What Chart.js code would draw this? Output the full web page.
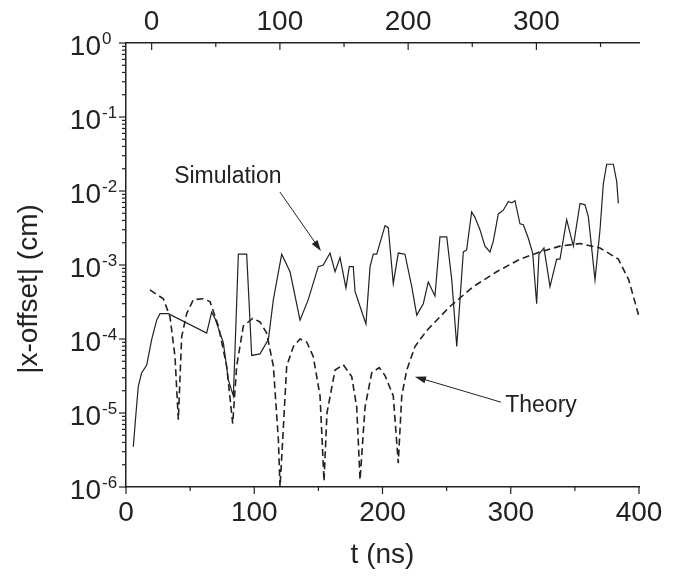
<!DOCTYPE html>
<html>
<head>
<meta charset="utf-8">
<script src="https://cdn.jsdelivr.net/npm/chart.js@4.4.1/dist/chart.umd.min.js"></script>
<style>
  html, body { margin: 0; padding: 0; background: #fff; }
  canvas { display: block; }
</style>
</head>
<body>
<canvas id="offsetChart" width="678" height="582"></canvas>
<script>
// Simulation |x-offset| (cm) vs t (ns)
const simT = [5.7, 7.8, 9.6, 12.2, 16.1, 20.0, 23.9, 26.5, 33.0, 62.9, 66.8, 69.4, 75.9, 79.8, 83.7, 85.0,
    87.6, 94.1, 98.0, 104.5, 111.0, 114.9, 121.4, 127.9, 135.7, 142.1, 149.9, 153.8, 159.1, 163.0, 166.9,
    171.5, 174.1, 177.2, 178.6, 182.5, 187.1, 190.3, 192.8, 195.5, 202.0, 204.5, 208.4, 212.3, 217.5,
    222.8, 226.7, 231.8, 235.7, 240.9, 244.8, 250.1, 254.0, 257.9, 263.0, 265.6, 269.5, 272.1, 276.0,
    279.9, 283.8, 286.4, 290.3, 294.2, 298.1, 300.7, 303.3, 307.2, 309.8, 313.7, 317.1, 320.2, 322.0,
    325.9, 330.6, 335.8, 338.4, 343.6, 348.8, 354.0, 357.9, 360.5, 365.7, 369.6, 372.2, 374.8, 380.0,
    382.6, 383.9]
const simY = [3.5e-6, 1.0e-5, 2.3e-5, 3.5e-5, 4.4e-5, 9.8e-5, 1.8e-4, 2.2e-4, 2.2e-4, 1.2e-4, 2.3e-4, 1.9e-4,
    8.9e-5, 2.8e-5, 1.7e-5, 7.1e-5, 1.4e-3, 1.4e-3, 6.0e-5, 6.3e-5, 9.8e-5, 3.4e-4, 1.4e-3, 8.1e-4, 1.8e-4,
    3.4e-4, 9.5e-4, 1.0e-3, 1.45e-3, 8.1e-4, 1.26e-3, 4.9e-4, 9.5e-4, 9.5e-4, 4.4e-4, 2.75e-4, 1.6e-4,
    9.5e-4, 1.4e-3, 1.4e-3, 3.4e-3, 3.2e-3, 5.6e-4, 1.45e-3, 1.4e-3, 5.1e-4, 2.1e-4, 3.0e-4, 5.9e-4,
    3.8e-4, 2.4e-3, 2.4e-3, 6.3e-4, 7.9e-5, 1.5e-3, 1.6e-3, 5.2e-3, 4.4e-3, 3.0e-3, 1.8e-3, 1.5e-3,
    2.1e-3, 4.9e-3, 5.5e-3, 7.2e-3, 6.9e-3, 7.4e-3, 3.6e-3, 3.5e-3, 2.3e-3, 1.45e-3, 3.0e-4, 1.4e-3,
    1.7e-3, 5.1e-4, 1.2e-3, 1.2e-3, 4.1e-3, 1.8e-3, 6.8e-3, 6.5e-3, 4.5e-3, 6.3e-4, 3.0e-3, 1.26e-2,
    2.3e-2, 2.3e-2, 1.35e-2, 6.8e-3]

// Theory curve
const theoryT = [18.7, 29.1, 34.3, 38.2, 40.8, 43.4, 47.3, 52.5, 60.3, 65.5, 72.0, 78.5, 83.2, 86.3, 91.5,
    98.8, 104.5, 109.7, 114.9, 118.8, 120.1, 122.2, 125.3, 130.5, 135.7, 140.9, 146.0, 151.3, 154.4,
    156.7, 163.0, 169.4, 176.0, 179.9, 182.5, 186.4, 191.6, 197.5, 202.0, 208.4, 212.3, 215.0, 218.9,
    225.3, 234.5, 252.6, 270.8, 289.0, 307.2, 322.8, 338.4, 354.0, 369.6, 383.9, 392.0, 400.0]
const theoryY = [4.6e-4, 3.5e-4, 2.0e-4, 5.8e-5, 8.1e-6, 1.07e-4, 2.2e-4, 3.4e-4, 3.5e-4, 3.2e-4, 1.5e-4,
    4.3e-5, 7.2e-6, 4.3e-5, 1.5e-4, 1.9e-4, 1.7e-4, 1.2e-4, 4.3e-5, 4.4e-6, 1.0e-6, 4.4e-6, 4.3e-5,
    7.9e-5, 1.0e-4, 9.1e-5, 5.8e-5, 1.7e-5, 1.2e-6, 1.0e-5, 3.8e-5, 4.5e-5, 3.1e-5, 1.2e-5, 1.25e-6,
    1.2e-5, 3.5e-5, 4.1e-5, 3.2e-5, 1.7e-5, 2.1e-6, 1.7e-5, 3.8e-5, 7.9e-5, 1.3e-4, 2.75e-4, 5.1e-4,
    8.1e-4, 1.2e-3, 1.5e-3, 1.8e-3, 1.95e-3, 1.7e-3, 1.2e-3, 6.3e-4, 2.0e-4]

// axes
const xTicks = [0, 100, 200, 300, 400]
const xMinorTicks = [50, 150, 250, 350]
const topTicks = [0, 100, 200, 300]
const topMinorTicks = [50, 150, 250, 350]
const topOffset = 20   // top axis reads t - 20
const yExps = [0, -1, -2, -3, -4, -5, -6]

// annotations: [label, text t, text y, arrow tail t, tail y, arrow tip t, tip y]
const notes = [
    ['Simulation', 79.4, 1.55e-2, 120, 9.7e-3, 152, 1.55e-3],
    ['Theory', 323.6, 1.24e-5, 292.4, 1.4e-5, 225.3, 3.1e-5]
]

const ink = '#222'
const fontFamily = '"Liberation Sans", Arial, Helvetica, sans-serif'

function arrow(ctx, x0, y0, x1, y1) {
    const ang = Math.atan2(y1 - y0, x1 - x0)
    const len = 11, half = 3.5
    ctx.beginPath()
    ctx.moveTo(x0, y0)
    ctx.lineTo(x1 - Math.cos(ang) * len * 0.8, y1 - Math.sin(ang) * len * 0.8)
    ctx.stroke()
    ctx.beginPath()
    ctx.moveTo(x1, y1)
    ctx.lineTo(x1 - Math.cos(ang) * len - Math.sin(ang) * half, y1 - Math.sin(ang) * len + Math.cos(ang) * half)
    ctx.lineTo(x1 - Math.cos(ang) * len + Math.sin(ang) * half, y1 - Math.sin(ang) * len - Math.cos(ang) * half)
    ctx.closePath()
    ctx.fill()
}

const axisDecor = {
    id: 'axisDecor',
    afterDraw(chart) {
        const {ctx, chartArea: a, scales} = chart
        const x = scales.x, x2 = scales.x2, y = scales.y
        ctx.save()
        ctx.strokeStyle = ink
        ctx.fillStyle = ink
        ctx.lineWidth = 1.2

        // bottom ticks (outward)
        xTicks.forEach(v => {
            const px = x.getPixelForValue(v)
            ctx.beginPath(); ctx.moveTo(px, a.bottom); ctx.lineTo(px, a.bottom + 7); ctx.stroke()
        })
        xMinorTicks.forEach(v => {
            const px = x.getPixelForValue(v)
            ctx.beginPath(); ctx.moveTo(px, a.bottom); ctx.lineTo(px, a.bottom + 4); ctx.stroke()
        })
        // top ticks (pointing into the plot)
        topTicks.forEach(v => {
            const px = x2.getPixelForValue(v)
            ctx.beginPath(); ctx.moveTo(px, a.top); ctx.lineTo(px, a.top + 7); ctx.stroke()
        })
        topMinorTicks.forEach(v => {
            const px = x2.getPixelForValue(v)
            ctx.beginPath(); ctx.moveTo(px, a.top); ctx.lineTo(px, a.top + 4); ctx.stroke()
        })
        // left ticks, log decades + minors
        yExps.forEach(e => {
            const py = y.getPixelForValue(Math.pow(10, e))
            ctx.beginPath(); ctx.moveTo(a.left, py); ctx.lineTo(a.left - 7, py); ctx.stroke()
            if (e < 0) {
                for (let m = 2; m <= 9; m++) {
                    const pm = y.getPixelForValue(m * Math.pow(10, e))
                    ctx.beginPath(); ctx.moveTo(a.left, pm); ctx.lineTo(a.left - 4, pm); ctx.stroke()
                }
            }
        })

        // tick labels
        ctx.font = '28px ' + fontFamily
        ctx.textAlign = 'center'
        ctx.textBaseline = 'middle'
        xTicks.forEach(v => ctx.fillText(String(v), x.getPixelForValue(v), a.bottom + 26))
        topTicks.forEach(v => ctx.fillText(String(v), x2.getPixelForValue(v), a.top - 21))

        yExps.forEach(e => {
            const py = y.getPixelForValue(Math.pow(10, e))
            ctx.font = '28px ' + fontFamily
            ctx.textAlign = 'right'
            ctx.textBaseline = 'middle'
            ctx.fillText('10', a.left - 25, py + 4)
            ctx.font = '17px ' + fontFamily
            ctx.textAlign = 'left'
            ctx.textBaseline = 'alphabetic'
            ctx.fillText(String(e), a.left - 24, py + 1)
        })

        // axis titles
        ctx.font = '28px ' + fontFamily
        ctx.textAlign = 'center'
        ctx.textBaseline = 'middle'
        ctx.fillText('t (ns)', (a.left + a.right) / 2, a.bottom + 68)
        ctx.save()
        ctx.translate(29, 289)
        ctx.rotate(-Math.PI / 2)
        ctx.fillText('|x-offset| (cm)', 0, 0)
        ctx.restore()

        // annotations
        ctx.font = '23px ' + fontFamily
        ctx.lineWidth = 1
        notes.forEach(n => {
            ctx.fillText(n[0], x.getPixelForValue(n[1]), y.getPixelForValue(n[2]))
            arrow(ctx, x.getPixelForValue(n[3]), y.getPixelForValue(n[4]),
                x.getPixelForValue(n[5]), y.getPixelForValue(n[6]))
        })
        ctx.restore()
    }
}

const ctx = document.getElementById('offsetChart').getContext('2d')

new Chart(ctx, {
    type: 'line',
    data: {
        datasets: [{
            label: 'Simulation',
            data: simT.map((t, i) => ({x: t, y: simY[i]})),
            borderColor: ink,
            borderWidth: 1.2,
            pointRadius: 0,
            tension: 0,
            fill: false
        }, {
            label: 'Theory',
            data: theoryT.map((t, i) => ({x: t, y: theoryY[i]})),
            borderColor: ink,
            borderWidth: 1.6,
            borderDash: [7, 4],
            pointRadius: 0,
            tension: 0,
            fill: false
        }]
    },
    options: {
        responsive: false,
        animation: false,
        devicePixelRatio: 1,
        layout: { padding: { left: 0, top: 0, right: 39, bottom: 0 } },
        plugins: { legend: { display: false }, tooltip: { enabled: false } },
        scales: {
            x: {
                type: 'linear',
                position: 'bottom',
                min: 0,
                max: 400,
                grid: { display: false },
                border: { display: true, color: ink, width: 1.5 },
                ticks: { display: false },
                afterFit: s => { s.height = 95 }
            },
            x2: {
                type: 'linear',
                position: 'top',
                min: 0 - topOffset,
                max: 400 - topOffset,
                grid: { display: false },
                border: { display: true, color: ink, width: 1.5 },
                ticks: { display: false },
                afterFit: s => { s.height = 43 }
            },
            y: {
                type: 'logarithmic',
                position: 'left',
                min: 1e-6,
                max: 1,
                grid: { display: false },
                border: { display: true, color: ink, width: 1.5 },
                ticks: { display: false },
                afterFit: s => { s.width = 126 }
            }
        }
    },
    plugins: [axisDecor]
})
</script>
</body>
</html>
